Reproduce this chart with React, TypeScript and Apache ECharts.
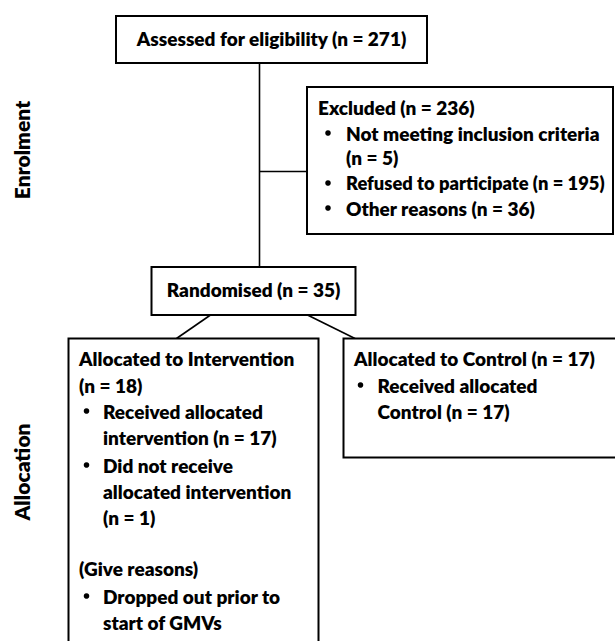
import React, { useEffect, useRef } from "react";
import * as echarts from "echarts";

// ---- Data (CONSORT flow) ----
const stageLabels = ["Enrolment", "Allocation"];
const assessedCount = 271;
const excludedCount = 236;
const exclusionReasons = ["Not meeting inclusion criteria", "Refused to participate", "Other reasons"];
const exclusionCounts = [5, 195, 36];
const randomisedCount = 35;
const armNames = ["Intervention", "Control"];
const armCounts = [18, 17];
const receivedCounts = [17, 17];
const notReceivedCount = 1;
const dropReason = "Dropped out prior to start of GMVs";

const FONT = "Lato, 'Open Sans', sans-serif";
const SIZE = 19;
const n = (v: number) => `(n = ${v})`;

function txt(text: string, x: number, y: number, align = "left", sx = 1) {
  return {
    type: "text",
    x,
    y,
    scaleX: sx,
    style: {
      text,
      fill: "#000",
      font: `800 ${SIZE}px ${FONT}`,
      textAlign: align,
      textVerticalAlign: "middle",
    },
  };
}

function bullet(x: number, y: number) {
  return {
    type: "circle",
    shape: { cx: x + 3, cy: y, r: 2.8 },
    style: { fill: "#000" },
  };
}

function box(x: number, y: number, w: number, h: number) {
  return {
    type: "rect",
    shape: { x, y, width: w, height: h },
    style: { fill: "#fff", stroke: "#000", lineWidth: 2 },
  };
}

function line(x1: number, y1: number, x2: number, y2: number) {
  return {
    type: "line",
    shape: { x1, y1, x2, y2 },
    style: { stroke: "#000", lineWidth: 1.6 },
  };
}

export default function App() {
  const ref = useRef<HTMLDivElement>(null);
  useEffect(() => {
    if (!ref.current) return;
    const chart = echarts.init(ref.current, undefined, { renderer: "svg" });

    const elements: any[] = [];
    // connectors
    elements.push(line(259.5, 63, 259.5, 267));
    elements.push(line(259.5, 171.5, 307, 171.5));
    elements.push(line(210.5, 315, 176.5, 338.5));
    elements.push(line(307.5, 315, 355, 338.5));

    // boxes
    elements.push(box(116, 16, 311, 47));
    elements.push(box(307, 87, 306, 147));
    elements.push(box(151.5, 267, 204, 48));
    elements.push(box(68.5, 338.5, 250, 330));
    elements.push(box(343.5, 338.5, 280, 119));

    // top box text
    elements.push(txt(`Assessed for eligibility ${n(assessedCount)}`, 271.5, 38, "center"));

    // excluded box
    elements.push(txt(`Excluded ${n(excludedCount)}`, 318, 107));
    const exY = [133, 183, 208];
    elements.push(bullet(325, exY[0]));
    elements.push(txt(exclusionReasons[0], 346, exY[0]));
    elements.push(txt(n(exclusionCounts[0]), 346, 157));
    elements.push(bullet(325, exY[1]));
    elements.push(txt(`${exclusionReasons[1]} ${n(exclusionCounts[1])}`, 346, exY[1], "left", 0.965));
    elements.push(bullet(325, exY[2]));
    elements.push(txt(`${exclusionReasons[2]} ${n(exclusionCounts[2])}`, 346, exY[2]));

    // randomised
    elements.push(txt(`Randomised ${n(randomisedCount)}`, 253.5, 289, "center"));

    // intervention arm
    elements.push(txt(`Allocated to ${armNames[0]}`, 79, 358));
    elements.push(txt(n(armCounts[0]), 79, 385));
    elements.push(bullet(83.5, 411));
    elements.push(txt("Received allocated", 103, 411));
    elements.push(txt(`intervention ${n(receivedCounts[0])}`, 103, 437));
    elements.push(bullet(83.5, 465));
    elements.push(txt("Did not receive", 103, 465));
    elements.push(txt("allocated intervention", 103, 491));
    elements.push(txt(n(notReceivedCount), 103, 517));
    elements.push(txt("(Give reasons)", 79, 568));
    elements.push(bullet(83.5, 596));
    const dr = dropReason.split(" ");
    elements.push(txt(dr.slice(0, 4).join(" "), 103, 596));
    elements.push(txt(dr.slice(4).join(" "), 103, 622));

    // control arm
    elements.push(txt(`Allocated to ${armNames[1]} ${n(armCounts[1])}`, 354, 358));
    elements.push(bullet(357.5, 385));
    elements.push(txt("Received allocated", 377.5, 385));
    elements.push(txt(`${armNames[1]} ${n(receivedCounts[1])}`, 377.5, 411));

    // stage labels (vertical)
    const stageY = [150, 472];
    stageLabels.forEach((s, i) => {
      elements.push({
        type: "text",
        x: 21,
        y: stageY[i],
        rotation: Math.PI / 2,
        style: {
          text: s,
          fill: "#000",
          font: `800 21px ${FONT}`,
          textAlign: "center",
          textVerticalAlign: "middle",
        },
      });
    });

    chart.setOption({
      animation: false,
      backgroundColor: "#fff",
      graphic: { elements },
    });
    return () => chart.dispose();
  }, []);
  return <div ref={ref} style={{ width: 615, height: 641, position: "absolute", left: 0, top: 0 }} />;
}
